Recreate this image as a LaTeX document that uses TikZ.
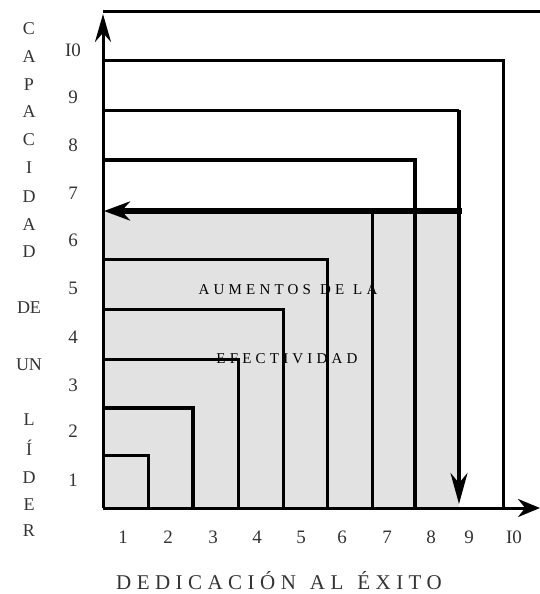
\documentclass[tikz,border=0pt]{standalone}
\usepackage{fontspec}
\setmainfont{Liberation Serif}
\usetikzlibrary{arrows.meta}
\definecolor{fillgray}{HTML}{E2E2E2}
\begin{document}
\begin{tikzpicture}[x=1pt,y=-1pt,
  ln/.style={line width=3pt,line cap=butt,line join=miter},
  num/.style={font=\fontsize{19}{19}\selectfont,inner sep=0pt,text=black!80},
  vlet/.style={font=\fontsize{18}{18}\selectfont,inner sep=0pt,text=black!80},
  midtxt/.style={font=\addfontfeature{LetterSpace=28}\fontsize{15}{15}\selectfont,inner sep=0pt,text=black},
  title/.style={font=\addfontfeature{LetterSpace=26}\fontsize{21}{21}\selectfont,inner sep=0pt,text=black!80}]
\useasboundingbox (0,0) rectangle (540,594);
% named points
\coordinate (O) at (103,508);
\coordinate (Ytop) at (103,14);
\coordinate (Xend) at (540,508);
\coordinate (TopL) at (103,12);
\coordinate (TopR) at (540,12);
% shaded region
\fill[fillgray] (O) rectangle (459,211);
% nested squares
\foreach \yy/\xx/\w in {455/148/3, 408/193/4.5, 359/238/3, 309/283/3, 259/327/3, 160/415/3.5, 61/503/3}{
  \draw[ln,line width=\w pt] (103,\yy) -| (\xx,508);
}
\draw[ln] (372,211) -- (372,508);
\coordinate (S8c) at (459,110);
\coordinate (S8b) at (459,504);
\draw[ln] (103,110) -- (S8c);
\draw[ln,line width=3.5pt,-{Stealth[length=31pt,width=17pt]}] (S8c) -- (S8b);
% thick arrow at 6
\coordinate (S6r) at (462,211);
\coordinate (S6l) at (104,211);
\draw[line width=5.5pt,-{Stealth[length=26pt,width=19pt]}] (S6r) -- (S6l);
% top line
\draw[ln] (TopL) -- (TopR);
% axes
\draw[ln,-{Stealth[length=28pt,width=16pt]}] (O) -- (Ytop);
\draw[ln,-{Stealth[length=22pt,width=18pt]}] (O) -- (Xend);
% y numbers
\foreach \t/\yy in {I0/50, 9/97, 8/145, 7/193, 6/240, 5/288, 4/337, 3/385, 2/431, 1/480}{
  \node[num] (yl\yy) at (73,\yy) {\t};
}
% x numbers
\foreach \t/\xx in {1/123, 2/168, 3/213, 4/257, 5/301, 6/342, 7/387, 8/431, 9/469, I0/514}{
  \node[num] (xl\xx) at (\xx,537) {\t};
}
% vertical label
\foreach \t/\yy in {C/29, A/57, P/85, A/112, C/140, I/168, D/197, A/225, D/252, L/420, Í/448, D/478, E/505, R/531}{
  \node[vlet] (vl\yy) at (29,\yy) {\t};
}
\node[vlet] (de) at (29,308) {DE};
\node[vlet] (un) at (29,365) {UN};
% middle texts
\node[midtxt] (aum) at (288,290) {AUMENTOS\hspace{9pt}DE\hspace{9pt}LA};
\node[midtxt] (efe) at (287,359) {EFECTIVIDAD};
% title
\node[title] (tit) at (279,581) {DEDICACIÓN\hspace{14pt}AL\hspace{14pt}ÉXITO};
\end{tikzpicture}
\end{document}
